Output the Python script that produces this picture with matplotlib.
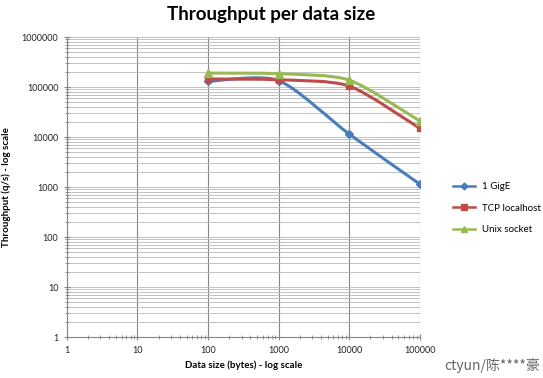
import numpy as np
import matplotlib
matplotlib.use("Agg")
import matplotlib.pyplot as plt
from matplotlib.path import Path
from matplotlib.patches import PathPatch
from matplotlib.ticker import LogLocator, NullFormatter, FuncFormatter

sizes = [100, 1000, 10000, 100000]
gige = [130000, 135000, 11500, 1150]
tcp = [145000, 140000, 105000, 15000]
unix = [190000, 185000, 138000, 21000]

SERIES = [
    ("1 GigE", gige, "#4a7ebb", "D", 4),
    ("TCP localhost", tcp, "#be4b48", "s", 5),
    ("Unix socket", unix, "#98b954", "^", 5.5),
]


def smooth_path(xs, ys, k=8):
    # Excel-style smoothed line: bezier through the points, in log space
    pts = np.column_stack([np.log10(xs), np.log10(ys)])
    verts = [pts[0]]
    codes = [Path.MOVETO]
    n = len(pts)
    for i in range(n - 1):
        p0 = pts[max(i - 1, 0)]
        p1, p2 = pts[i], pts[i + 1]
        p3 = pts[min(i + 2, n - 1)]
        verts += [p1 + (p2 - p0) / k, p2 - (p3 - p1) / k, p2]
        codes += [Path.CURVE4] * 3
    return Path(10 ** np.array(verts), codes)


plt.rcParams["font.family"] = ["Lato", "DejaVu Sans"]
fig = plt.figure(figsize=(5.43, 3.78), dpi=100)
ax = fig.add_axes([0.123, 0.108, 0.65, 0.794])
ax.set_xscale("log")
ax.set_yscale("log")
ax.set_xlim(1, 100000)
ax.set_ylim(1, 1000000)

for label, ys, color, marker, ms in SERIES:
    ax.add_patch(PathPatch(smooth_path(sizes, ys), facecolor="none",
                           edgecolor=color, linewidth=2.2, zorder=3))
    ax.plot(sizes, ys, linestyle="none", marker=marker, markersize=ms,
            color=color, zorder=4)
    ax.plot([], [], color=color, marker=marker, markersize=ms - 0.5,
            linewidth=1.8, label=label)

ax.xaxis.set_major_locator(LogLocator(base=10, numticks=10))
ax.yaxis.set_major_locator(LogLocator(base=10, numticks=10))
ax.xaxis.set_minor_locator(LogLocator(base=10, subs=np.arange(2, 10), numticks=20))
ax.yaxis.set_minor_locator(LogLocator(base=10, subs=np.arange(2, 10), numticks=20))
ax.xaxis.set_minor_formatter(NullFormatter())
ax.yaxis.set_minor_formatter(NullFormatter())
ax.xaxis.set_major_formatter(FuncFormatter(lambda v, p: f"{int(round(v))}"))
ax.yaxis.set_major_formatter(FuncFormatter(lambda v, p: f"{int(round(v))}"))

ax.grid(True, which="major", axis="x", color="#868686", linewidth=0.8)
ax.grid(True, which="both", axis="y", color="#b8b8b8", linewidth=0.6)
ax.set_axisbelow(True)
for side in ("top", "right"):
    ax.spines[side].set_visible(False)
for side in ("left", "bottom"):
    ax.spines[side].set_color("#868686")
ax.tick_params(which="both", direction="inout", colors="#868686", labelcolor="#222222",
               labelsize=6.5)
ax.tick_params(which="major", length=5)
ax.tick_params(which="minor", length=3)

ax.set_xlabel("Data size (bytes) - log scale", fontsize=7, fontweight="bold", labelpad=4)
ax.set_ylabel("Throughput (q/s) - log scale", fontsize=7, fontweight="bold", labelpad=8)
fig.suptitle("Throughput per data size", fontsize=13.5, fontweight="bold", y=0.985)

ax.legend(loc="center left", bbox_to_anchor=(1.07, 0.43), frameon=False,
          fontsize=7, handlelength=2.2, labelspacing=1.3)

fig.text(0.995, 0.012, "ctyun/陈****豪", ha="right", va="bottom", fontsize=10,
         color="#666666", family=["Noto Sans CJK SC", "DejaVu Sans"])

fig.savefig("out.png", dpi=100, facecolor="white")
